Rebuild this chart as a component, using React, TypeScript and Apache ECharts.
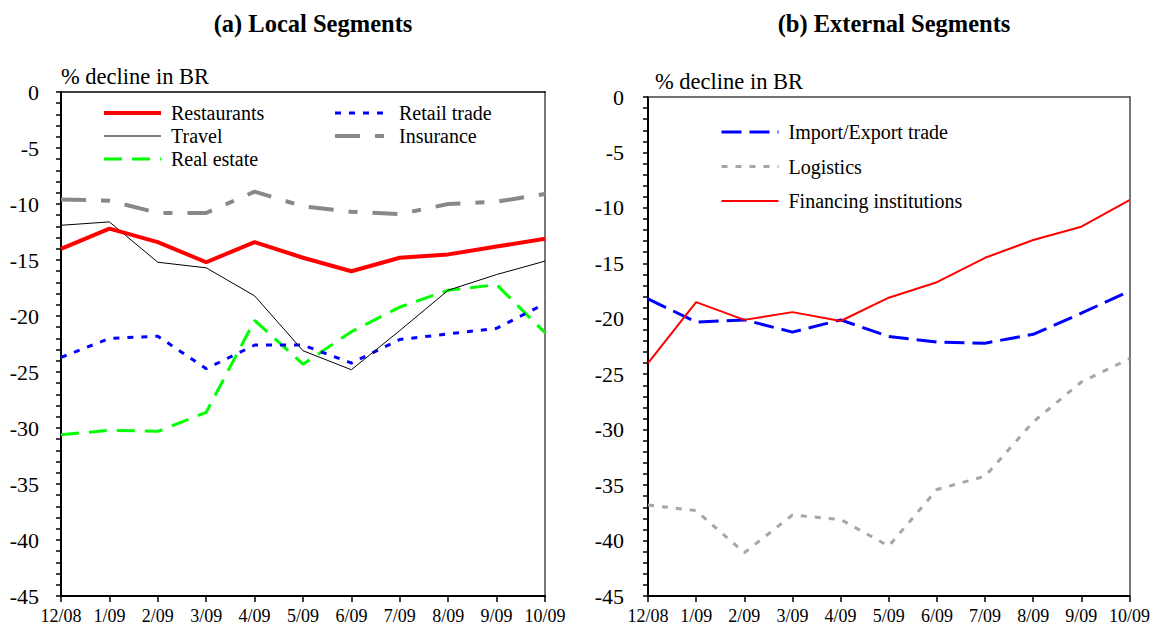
import React, { useEffect, useRef } from "react";
import * as echarts from "echarts";

const categories = ["12/08", "1/09", "2/09", "3/09", "4/09", "5/09", "6/09", "7/09", "8/09", "9/09", "10/09"];

const restaurants = [-14.0, -12.2, -13.4, -15.2, -13.4, -14.8, -16.0, -14.8, -14.5, -13.8, -13.1];
const travel = [-11.9, -11.6, -15.2, -15.7, -18.2, -23.1, -24.8, -21.3, -17.7, -16.3, -15.1];
const retailTrade = [-23.7, -22.0, -21.8, -24.7, -22.6, -22.6, -24.2, -22.1, -21.6, -21.1, -18.9];
const realEstate = [-30.6, -30.2, -30.3, -28.6, -20.4, -24.3, -21.4, -19.2, -17.7, -17.2, -21.5];
const insurance = [-9.6, -9.7, -10.8, -10.8, -8.9, -10.2, -10.7, -10.9, -10.0, -9.8, -9.1];

const importExport = [-18.2, -20.3, -20.1, -21.2, -20.1, -21.6, -22.1, -22.2, -21.4, -19.5, -17.5];
const logistics = [-36.8, -37.3, -41.1, -37.7, -38.1, -40.5, -35.4, -34.2, -29.3, -25.7, -23.6];
const financing = [-24.0, -18.5, -20.1, -19.4, -20.2, -18.1, -16.7, -14.5, -12.9, -11.7, -9.3];

const yMin = -45;
const yMax = 0;
const yInterval = 5;

const FONT = "Liberation Serif";

export default function App() {
  const ref = useRef<HTMLDivElement>(null);

  useEffect(() => {
    if (!ref.current) return;
    const chart = echarts.init(ref.current, null, { renderer: "svg" });

    const valueAxis = (gridIndex: number, margin: number, nameOffset: number) => ({
      type: "value",
      gridIndex,
      min: yMin,
      max: yMax,
      interval: yInterval,
      name: "% decline in BR",
      nameLocation: "end",
      nameGap: 4,
      nameTextStyle: {
        fontFamily: FONT,
        fontSize: 22.5,
        color: "#000",
        align: "left",
        padding: [0, 0, 0, nameOffset],
      },
      axisLine: { show: true, onZero: false, lineStyle: { color: "#000", width: 2 } },
      axisTick: { show: true, inside: false, length: 5, lineStyle: { color: "#000", width: 1.5 } },
      minorTick: { show: true, splitNumber: 5, length: 5, lineStyle: { color: "#000", width: 1.5 } },
      axisLabel: { fontFamily: FONT, fontSize: 22, color: "#000", margin: margin },
      splitLine: { show: false },
    });

    const rightAxis = (gridIndex: number) => ({
      type: "value",
      gridIndex,
      position: "right",
      min: yMin,
      max: yMax,
      interval: yInterval,
      axisLine: { show: true, onZero: false, lineStyle: { color: "#777", width: 2 } },
      axisTick: { show: false },
      axisLabel: { show: false },
      splitLine: { show: false },
    });

    const catAxis = (gridIndex: number) => ({
      type: "category",
      gridIndex,
      data: categories,
      boundaryGap: false,
      axisLine: { show: true, onZero: false, lineStyle: { color: "#000", width: 2 } },
      axisTick: { show: true, inside: false, length: 6, lineStyle: { color: "#000", width: 1.5 } },
      axisLabel: { fontFamily: FONT, fontSize: 18, color: "#000", margin: 11, interval: 0 },
      splitLine: { show: false },
    });

    const topAxis = (gridIndex: number, color: string) => ({
      type: "category",
      gridIndex,
      position: "top",
      data: categories,
      boundaryGap: false,
      axisLine: { show: true, onZero: false, lineStyle: { color, width: 1.5 } },
      axisTick: { show: false },
      axisLabel: { show: false },
      splitLine: { show: false },
    });

    const line = (
      name: string,
      data: number[],
      color: string,
      width: number,
      type: any,
      xi: number,
      yi: number
    ) => ({
      name,
      type: "line",
      data,
      xAxisIndex: xi,
      yAxisIndex: yi,
      symbol: "none",
      lineStyle: { color, width, type, cap: "butt" },
      itemStyle: { color },
    });

    const legendItem = (name: string, color: string, width: number, type: any) => ({
      name,
      lineStyle: { color, width, type },
      itemStyle: { color, opacity: 0 },
    });

    const legendText = {
      fontFamily: FONT,
      fontSize: 20,
      color: "#000",
      lineHeight: 20,
      padding: [0, 0, 0, 5],
    };

    const titleStyle = {
      fontFamily: FONT,
      fontSize: 24.5,
      fontWeight: "bold",
      fill: "#000",
      textAlign: "center",
      textVerticalAlign: "middle",
    };

    const option: any = {
      animation: false,
      backgroundColor: "#fff",
      textStyle: { fontFamily: FONT, color: "#000" },
      graphic: [
        { type: "text", x: 313, y: 23, style: { ...titleStyle, text: "(a) Local Segments" } },
        { type: "text", x: 894, y: 23, style: { ...titleStyle, text: "(b) External Segments" } },
      ],
      grid: [
        { left: 61, top: 92, width: 484, height: 504, containLabel: false },
        { left: 648, top: 97, width: 482, height: 499, containLabel: false },
      ],
      xAxis: [catAxis(0), topAxis(0, "#000"), catAxis(1), topAxis(1, "#444")],
      yAxis: [valueAxis(0, 22, 0), rightAxis(0), valueAxis(1, 24, 7), rightAxis(1)],
      legend: [
        {
          orient: "vertical",
          left: 102,
          top: 103,
          padding: 0,
          itemWidth: 57,
          itemHeight: 14,
          itemGap: 3,
          textStyle: legendText,
          data: [
            legendItem("Restaurants", "#ff0000", 4, "solid"),
            legendItem("Travel", "#000000", 1, "solid"),
            legendItem("Real estate", "#00ff00", 3, [18, 10]),
          ],
        },
        {
          orient: "vertical",
          left: 333,
          top: 103,
          padding: 0,
          itemWidth: 50,
          itemHeight: 14,
          itemGap: 3,
          textStyle: { ...legendText, padding: [0, 0, 0, 9] },
          data: [
            legendItem("Retail trade", "#0000ff", 3, [6, 8]),
            legendItem("Insurance", "#888888", 4, [25, 15, 9, 15]),
          ],
        },
        {
          orient: "vertical",
          left: 720,
          top: 122,
          padding: 0,
          itemWidth: 57,
          itemHeight: 14,
          itemGap: 14.5,
          textStyle: legendText,
          data: [
            legendItem("Import/Export trade", "#0000ff", 3, [20, 8]),
            legendItem("Logistics", "#a6a6a6", 3, [6, 8]),
            legendItem("Financing institutions", "#ff0000", 2, "solid"),
          ],
        },
      ],
      series: [
        line("Insurance", insurance, "#888888", 4, [25, 15, 9, 15], 0, 0),
        line("Real estate", realEstate, "#00ff00", 3, [18, 10], 0, 0),
        line("Retail trade", retailTrade, "#0000ff", 3, [6, 8], 0, 0),
        line("Travel", travel, "#000000", 1, "solid", 0, 0),
        line("Restaurants", restaurants, "#ff0000", 4, "solid", 0, 0),
        line("Logistics", logistics, "#a6a6a6", 3, [6, 8], 2, 2),
        line("Import/Export trade", importExport, "#0000ff", 3, [20, 8], 2, 2),
        line("Financing institutions", financing, "#ff0000", 2, "solid", 2, 2),
      ],
    };

    chart.setOption(option);
    return () => {
      chart.dispose();
    };
  }, []);

  return (
    <div
      ref={ref}
      style={{ position: "absolute", left: 0, top: 0, width: 1153, height: 628, background: "#fff" }}
    />
  );
}
